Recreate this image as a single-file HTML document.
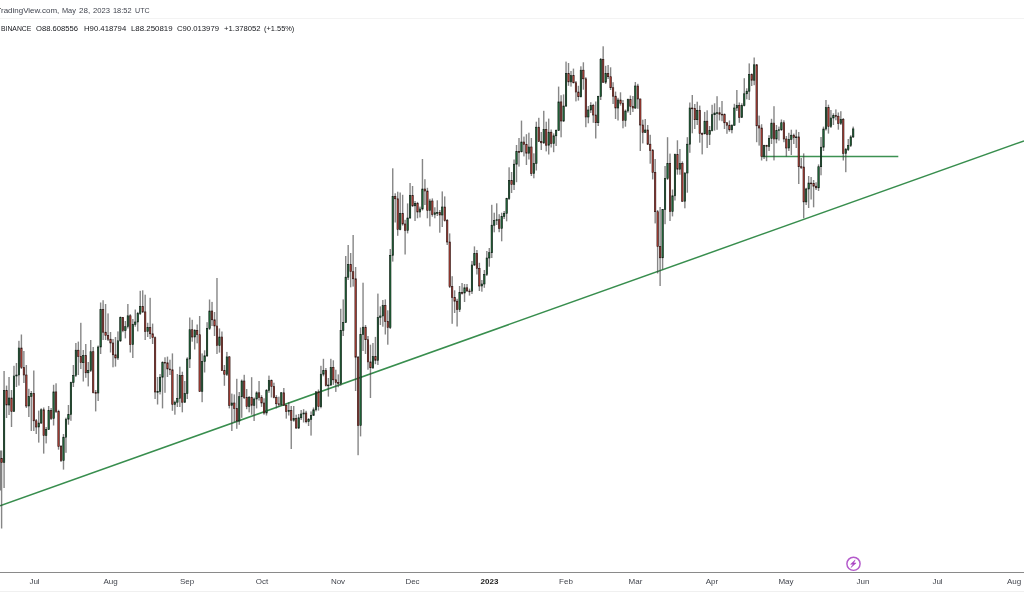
<!DOCTYPE html>
<html><head><meta charset="utf-8"><title>chart</title>
<style>
html,body{margin:0;padding:0;background:#fff;}
body{width:1024px;height:615px;overflow:hidden;position:relative;font-family:"Liberation Sans",sans-serif;}
.txt{position:absolute;left:0;top:0;width:1024px;height:615px;will-change:transform;}
.w1,.w2{position:absolute;white-space:nowrap;transform-origin:0 0;}
.w1{top:6.4px;font-size:7.8px;color:#40444e;}
.w2{top:24px;font-size:7.7px;color:#15171c;}
.tcut{position:absolute;left:0;top:8px;width:0.6px;height:1px;background:#777;}
.sep{position:absolute;left:0;top:18px;width:1024px;height:1px;background:#f3f3f3;}
.t2{position:absolute;left:0px;top:24px;font-size:7.6px;color:#2a2a2a;white-space:nowrap;}
.t2 span{margin-right:5px;}
.axis{position:absolute;left:0;top:572px;width:1024px;height:1px;background:#8a8a8a;}
.bl{position:absolute;left:0;top:591px;width:1024px;height:1px;background:#f0f0f0;}
.ml{position:absolute;top:577px;width:40px;text-align:center;font-size:8px;color:#42454d;}
.ml.yr{font-weight:bold;color:#222;}
svg{position:absolute;left:0;top:0;}
.g{fill:#24703f;stroke:#0c1c12;} .r{fill:#b8443a;stroke:#2a1210;}
</style></head><body>
<div class="txt"><div class="tcut"></div><span class="w1" style="left:0.60px;transform:scaleX(1.022)">radingView.com,</span><span class="w1" style="left:61.80px;transform:scaleX(0.943)">May</span><span class="w1" style="left:78.60px;transform:scaleX(1.033)">28,</span><span class="w1" style="left:92.70px;transform:scaleX(0.980)">2023</span><span class="w1" style="left:113.00px;transform:scaleX(0.951)">18:52</span><span class="w1" style="left:134.50px;transform:scaleX(0.911)">UTC</span>
<div class="sep"></div>
<span class="w2" style="left:0.50px;transform:scaleX(0.886)">BINANCE</span><span class="w2" style="left:35.95px;transform:scaleX(0.993)">O88.608556</span><span class="w2" style="left:83.60px;transform:scaleX(1.007)">H90.418794</span><span class="w2" style="left:130.70px;transform:scaleX(1.022)">L88.250819</span><span class="w2" style="left:176.60px;transform:scaleX(1.002)">C90.013979</span><span class="w2" style="left:223.90px;transform:scaleX(1.001)">+1.378052</span><span class="w2" style="left:263.70px;transform:scaleX(0.966)">(+1.55%)</span></div>
<svg width="1024" height="615" viewBox="0 0 1024 615">
<line x1="0" y1="505.9" x2="1024" y2="140.9" stroke="#388e4e" stroke-width="1.5"/>
<line x1="762" y1="156.6" x2="898.3" y2="156.6" stroke="#3c9152" stroke-width="1.5"/>
<g><g fill="#3c3c3c" fill-opacity="0.62"><rect x="-0.5" y="450.5" width="1.6" height="40"/><rect x="0.90" y="450.5" width="1.4" height="78.0"/><rect x="3.38" y="371.0" width="1.4" height="117.0"/><rect x="5.85" y="385.6" width="1.4" height="32.4"/><rect x="8.33" y="377.0" width="1.4" height="38.0"/><rect x="10.80" y="390.0" width="1.4" height="37.0"/><rect x="13.28" y="365.8" width="1.4" height="46.2"/><rect x="15.75" y="363.0" width="1.4" height="24.0"/><rect x="18.23" y="340.8" width="1.4" height="44.8"/><rect x="20.70" y="334.5" width="1.4" height="34.5"/><rect x="23.18" y="351.0" width="1.4" height="32.0"/><rect x="25.66" y="365.0" width="1.4" height="43.0"/><rect x="28.13" y="388.8" width="1.4" height="28.2"/><rect x="30.61" y="391.0" width="1.4" height="40.0"/><rect x="33.08" y="370.5" width="1.4" height="60.5"/><rect x="35.56" y="419.0" width="1.4" height="15.0"/><rect x="38.03" y="410.6" width="1.4" height="32.0"/><rect x="40.51" y="408.3" width="1.4" height="15.7"/><rect x="42.99" y="407.5" width="1.4" height="46.1"/><rect x="45.46" y="427.0" width="1.4" height="16.4"/><rect x="47.94" y="406.0" width="1.4" height="24.0"/><rect x="50.41" y="408.0" width="1.4" height="12.0"/><rect x="52.89" y="384.8" width="1.4" height="40.7"/><rect x="55.36" y="383.3" width="1.4" height="29.7"/><rect x="57.84" y="409.8" width="1.4" height="39.9"/><rect x="60.31" y="445.0" width="1.4" height="17.0"/><rect x="62.79" y="434.0" width="1.4" height="35.6"/><rect x="65.27" y="417.7" width="1.4" height="35.1"/><rect x="67.74" y="405.0" width="1.4" height="19.7"/><rect x="70.22" y="381.7" width="1.4" height="39.1"/><rect x="72.69" y="365.0" width="1.4" height="22.0"/><rect x="75.17" y="343.0" width="1.4" height="34.0"/><rect x="77.64" y="341.6" width="1.4" height="33.4"/><rect x="80.12" y="322.8" width="1.4" height="46.2"/><rect x="82.59" y="350.0" width="1.4" height="31.5"/><rect x="85.07" y="344.0" width="1.4" height="33.8"/><rect x="87.55" y="362.0" width="1.4" height="24.4"/><rect x="90.02" y="340.0" width="1.4" height="32.0"/><rect x="92.50" y="347.0" width="1.4" height="46.4"/><rect x="94.97" y="390.0" width="1.4" height="21.4"/><rect x="97.45" y="345.5" width="1.4" height="55.5"/><rect x="99.92" y="302.5" width="1.4" height="51.5"/><rect x="102.40" y="300.2" width="1.4" height="39.8"/><rect x="104.88" y="304.0" width="1.4" height="36.0"/><rect x="107.35" y="313.4" width="1.4" height="27.6"/><rect x="109.83" y="332.0" width="1.4" height="20.5"/><rect x="112.30" y="339.0" width="1.4" height="28.3"/><rect x="114.78" y="337.0" width="1.4" height="29.6"/><rect x="117.25" y="331.4" width="1.4" height="28.6"/><rect x="119.73" y="316.5" width="1.4" height="25.5"/><rect x="122.20" y="317.3" width="1.4" height="14.9"/><rect x="124.68" y="321.0" width="1.4" height="17.4"/><rect x="127.16" y="304.0" width="1.4" height="24.5"/><rect x="129.63" y="314.2" width="1.4" height="38.3"/><rect x="132.11" y="319.0" width="1.4" height="39.0"/><rect x="134.58" y="309.5" width="1.4" height="17.2"/><rect x="137.06" y="311.9" width="1.4" height="19.5"/><rect x="139.53" y="290.8" width="1.4" height="24.2"/><rect x="142.01" y="290.3" width="1.4" height="22.7"/><rect x="144.48" y="294.7" width="1.4" height="45.3"/><rect x="146.96" y="322.8" width="1.4" height="14.2"/><rect x="149.44" y="297.8" width="1.4" height="41.2"/><rect x="151.91" y="323.6" width="1.4" height="20.4"/><rect x="154.39" y="336.5" width="1.4" height="62.5"/><rect x="156.86" y="377.0" width="1.4" height="27.5"/><rect x="159.34" y="374.0" width="1.4" height="20.4"/><rect x="161.81" y="361.3" width="1.4" height="47.1"/><rect x="164.29" y="357.3" width="1.4" height="35.5"/><rect x="166.77" y="356.6" width="1.4" height="20.4"/><rect x="169.24" y="359.7" width="1.4" height="15.3"/><rect x="171.72" y="353.4" width="1.4" height="57.4"/><rect x="174.19" y="400.6" width="1.4" height="14.1"/><rect x="176.67" y="374.0" width="1.4" height="33.0"/><rect x="179.14" y="366.7" width="1.4" height="40.3"/><rect x="181.62" y="371.7" width="1.4" height="40.6"/><rect x="184.09" y="381.0" width="1.4" height="22.0"/><rect x="186.57" y="357.3" width="1.4" height="41.7"/><rect x="189.05" y="317.5" width="1.4" height="50.5"/><rect x="191.52" y="319.8" width="1.4" height="21.9"/><rect x="194.00" y="329.2" width="1.4" height="20.3"/><rect x="196.47" y="324.5" width="1.4" height="18.8"/><rect x="198.95" y="316.0" width="1.4" height="76.0"/><rect x="201.42" y="353.4" width="1.4" height="48.8"/><rect x="203.90" y="350.3" width="1.4" height="22.2"/><rect x="206.37" y="322.2" width="1.4" height="34.8"/><rect x="208.85" y="299.5" width="1.4" height="30.5"/><rect x="211.33" y="301.9" width="1.4" height="24.1"/><rect x="213.80" y="312.0" width="1.4" height="24.0"/><rect x="216.28" y="278.0" width="1.4" height="76.0"/><rect x="218.75" y="328.4" width="1.4" height="24.2"/><rect x="221.23" y="331.5" width="1.4" height="39.5"/><rect x="223.70" y="365.0" width="1.4" height="20.8"/><rect x="226.18" y="351.9" width="1.4" height="24.1"/><rect x="228.66" y="356.0" width="1.4" height="52.4"/><rect x="231.13" y="393.6" width="1.4" height="37.4"/><rect x="233.61" y="394.4" width="1.4" height="28.1"/><rect x="236.08" y="378.8" width="1.4" height="50.0"/><rect x="238.56" y="392.0" width="1.4" height="32.8"/><rect x="241.03" y="379.5" width="1.4" height="38.3"/><rect x="243.51" y="374.8" width="1.4" height="24.2"/><rect x="245.98" y="389.0" width="1.4" height="20.2"/><rect x="248.46" y="396.0" width="1.4" height="16.3"/><rect x="250.94" y="377.2" width="1.4" height="37.5"/><rect x="253.41" y="397.5" width="1.4" height="23.5"/><rect x="255.89" y="391.3" width="1.4" height="17.1"/><rect x="258.36" y="381.0" width="1.4" height="19.6"/><rect x="260.84" y="395.2" width="1.4" height="11.7"/><rect x="263.31" y="398.3" width="1.4" height="16.4"/><rect x="265.79" y="389.0" width="1.4" height="26.5"/><rect x="268.26" y="375.6" width="1.4" height="17.2"/><rect x="270.74" y="379.5" width="1.4" height="18.0"/><rect x="273.22" y="382.7" width="1.4" height="15.6"/><rect x="275.69" y="395.2" width="1.4" height="13.2"/><rect x="278.17" y="396.7" width="1.4" height="10.2"/><rect x="280.64" y="392.0" width="1.4" height="14.0"/><rect x="283.12" y="388.0" width="1.4" height="18.0"/><rect x="285.59" y="404.5" width="1.4" height="14.1"/><rect x="288.07" y="402.2" width="1.4" height="13.3"/><rect x="290.55" y="406.0" width="1.4" height="43.0"/><rect x="293.02" y="406.0" width="1.4" height="15.7"/><rect x="295.50" y="414.7" width="1.4" height="14.1"/><rect x="297.97" y="414.0" width="1.4" height="15.0"/><rect x="300.45" y="410.0" width="1.4" height="10.0"/><rect x="302.92" y="409.2" width="1.4" height="13.3"/><rect x="305.40" y="410.8" width="1.4" height="12.5"/><rect x="307.87" y="418.0" width="1.4" height="8.0"/><rect x="310.35" y="411.4" width="1.4" height="24.2"/><rect x="312.83" y="407.5" width="1.4" height="8.5"/><rect x="315.30" y="391.0" width="1.4" height="20.4"/><rect x="317.78" y="389.5" width="1.4" height="21.1"/><rect x="320.25" y="365.8" width="1.4" height="42.5"/><rect x="322.73" y="358.8" width="1.4" height="17.5"/><rect x="325.20" y="368.0" width="1.4" height="18.5"/><rect x="327.68" y="378.0" width="1.4" height="18.6"/><rect x="330.15" y="358.8" width="1.4" height="27.2"/><rect x="332.63" y="360.3" width="1.4" height="24.5"/><rect x="335.11" y="369.7" width="1.4" height="22.2"/><rect x="337.58" y="374.4" width="1.4" height="12.8"/><rect x="340.06" y="308.8" width="1.4" height="76.8"/><rect x="342.53" y="299.4" width="1.4" height="36.6"/><rect x="345.01" y="256.0" width="1.4" height="67.0"/><rect x="347.48" y="245.0" width="1.4" height="35.0"/><rect x="349.96" y="253.0" width="1.4" height="34.3"/><rect x="352.44" y="235.0" width="1.4" height="51.6"/><rect x="354.91" y="267.0" width="1.4" height="124.0"/><rect x="357.39" y="356.0" width="1.4" height="99.2"/><rect x="359.86" y="327.5" width="1.4" height="108.9"/><rect x="362.34" y="282.7" width="1.4" height="68.3"/><rect x="364.81" y="325.0" width="1.4" height="29.0"/><rect x="367.29" y="336.0" width="1.4" height="33.7"/><rect x="369.76" y="344.7" width="1.4" height="53.3"/><rect x="372.24" y="343.0" width="1.4" height="26.0"/><rect x="374.72" y="336.9" width="1.4" height="27.3"/><rect x="377.19" y="293.6" width="1.4" height="71.4"/><rect x="379.67" y="306.4" width="1.4" height="18.6"/><rect x="382.14" y="300.0" width="1.4" height="26.7"/><rect x="384.62" y="299.4" width="1.4" height="35.1"/><rect x="387.09" y="310.3" width="1.4" height="34.4"/><rect x="389.57" y="249.0" width="1.4" height="80.0"/><rect x="392.04" y="168.3" width="1.4" height="93.3"/><rect x="394.52" y="193.3" width="1.4" height="29.2"/><rect x="397.00" y="191.7" width="1.4" height="44.1"/><rect x="399.47" y="192.5" width="1.4" height="37.8"/><rect x="401.95" y="194.8" width="1.4" height="30.8"/><rect x="404.42" y="219.8" width="1.4" height="34.7"/><rect x="406.90" y="203.4" width="1.4" height="30.0"/><rect x="409.37" y="183.0" width="1.4" height="35.6"/><rect x="411.85" y="186.0" width="1.4" height="21.0"/><rect x="414.33" y="201.0" width="1.4" height="20.0"/><rect x="416.80" y="201.9" width="1.4" height="16.4"/><rect x="419.28" y="206.6" width="1.4" height="10.9"/><rect x="421.75" y="159.0" width="1.4" height="51.5"/><rect x="424.23" y="179.2" width="1.4" height="25.8"/><rect x="426.70" y="187.8" width="1.4" height="30.5"/><rect x="429.18" y="198.8" width="1.4" height="27.6"/><rect x="431.65" y="198.4" width="1.4" height="18.3"/><rect x="434.13" y="207.3" width="1.4" height="11.0"/><rect x="436.61" y="200.3" width="1.4" height="15.7"/><rect x="439.08" y="210.0" width="1.4" height="22.7"/><rect x="441.56" y="191.4" width="1.4" height="35.6"/><rect x="444.03" y="196.4" width="1.4" height="25.1"/><rect x="446.51" y="219.0" width="1.4" height="26.0"/><rect x="448.98" y="233.4" width="1.4" height="54.6"/><rect x="451.46" y="276.2" width="1.4" height="47.6"/><rect x="453.93" y="290.3" width="1.4" height="22.7"/><rect x="456.41" y="298.8" width="1.4" height="27.7"/><rect x="458.89" y="286.0" width="1.4" height="26.0"/><rect x="461.36" y="283.0" width="1.4" height="11.5"/><rect x="463.84" y="284.0" width="1.4" height="18.0"/><rect x="466.31" y="284.0" width="1.4" height="7.7"/><rect x="468.79" y="288.6" width="1.4" height="7.0"/><rect x="471.26" y="261.0" width="1.4" height="33.0"/><rect x="473.74" y="246.4" width="1.4" height="19.6"/><rect x="476.22" y="250.0" width="1.4" height="24.5"/><rect x="478.69" y="262.8" width="1.4" height="28.2"/><rect x="481.17" y="280.0" width="1.4" height="11.7"/><rect x="483.64" y="270.0" width="1.4" height="17.8"/><rect x="486.12" y="251.0" width="1.4" height="25.0"/><rect x="488.59" y="248.0" width="1.4" height="18.7"/><rect x="491.07" y="204.8" width="1.4" height="53.2"/><rect x="493.54" y="212.7" width="1.4" height="19.6"/><rect x="496.02" y="203.3" width="1.4" height="21.7"/><rect x="498.50" y="214.2" width="1.4" height="18.0"/><rect x="500.97" y="212.7" width="1.4" height="28.6"/><rect x="503.45" y="211.0" width="1.4" height="8.0"/><rect x="505.92" y="197.8" width="1.4" height="23.5"/><rect x="508.40" y="167.3" width="1.4" height="32.7"/><rect x="510.87" y="172.0" width="1.4" height="21.0"/><rect x="513.35" y="159.5" width="1.4" height="30.5"/><rect x="515.82" y="145.0" width="1.4" height="37.2"/><rect x="518.30" y="138.0" width="1.4" height="28.6"/><rect x="520.78" y="120.6" width="1.4" height="31.9"/><rect x="523.25" y="136.6" width="1.4" height="19.8"/><rect x="525.73" y="134.2" width="1.4" height="30.8"/><rect x="528.20" y="132.7" width="1.4" height="26.8"/><rect x="530.68" y="138.0" width="1.4" height="38.0"/><rect x="533.15" y="153.3" width="1.4" height="25.0"/><rect x="535.63" y="121.7" width="1.4" height="48.8"/><rect x="538.11" y="117.8" width="1.4" height="24.2"/><rect x="540.58" y="132.0" width="1.4" height="18.0"/><rect x="543.06" y="110.8" width="1.4" height="33.2"/><rect x="545.53" y="121.7" width="1.4" height="29.7"/><rect x="548.01" y="118.6" width="1.4" height="35.9"/><rect x="550.48" y="129.5" width="1.4" height="18.0"/><rect x="552.96" y="133.4" width="1.4" height="18.8"/><rect x="555.43" y="129.5" width="1.4" height="16.5"/><rect x="557.91" y="86.6" width="1.4" height="44.4"/><rect x="560.39" y="95.2" width="1.4" height="42.1"/><rect x="562.86" y="94.4" width="1.4" height="27.6"/><rect x="565.34" y="61.6" width="1.4" height="45.4"/><rect x="567.81" y="63.0" width="1.4" height="22.8"/><rect x="570.29" y="71.0" width="1.4" height="15.6"/><rect x="572.76" y="68.6" width="1.4" height="14.9"/><rect x="575.24" y="81.0" width="1.4" height="20.4"/><rect x="577.71" y="85.8" width="1.4" height="14.8"/><rect x="580.19" y="66.3" width="1.4" height="31.2"/><rect x="582.67" y="62.3" width="1.4" height="27.4"/><rect x="585.14" y="77.2" width="1.4" height="50.0"/><rect x="587.62" y="106.0" width="1.4" height="17.3"/><rect x="590.09" y="102.2" width="1.4" height="10.8"/><rect x="592.57" y="103.8" width="1.4" height="19.0"/><rect x="595.04" y="101.5" width="1.4" height="37.0"/><rect x="597.52" y="95.8" width="1.4" height="30.2"/><rect x="600.00" y="58.0" width="1.4" height="42.0"/><rect x="602.47" y="46.3" width="1.4" height="36.7"/><rect x="604.95" y="65.8" width="1.4" height="18.2"/><rect x="607.42" y="65.0" width="1.4" height="14.0"/><rect x="609.90" y="67.3" width="1.4" height="22.7"/><rect x="612.37" y="82.2" width="1.4" height="21.8"/><rect x="614.85" y="91.6" width="1.4" height="27.4"/><rect x="617.32" y="97.8" width="1.4" height="22.7"/><rect x="619.80" y="92.3" width="1.4" height="13.3"/><rect x="622.28" y="100.0" width="1.4" height="28.3"/><rect x="624.75" y="109.5" width="1.4" height="17.2"/><rect x="627.23" y="98.6" width="1.4" height="14.1"/><rect x="629.70" y="95.5" width="1.4" height="19.5"/><rect x="632.18" y="96.0" width="1.4" height="16.0"/><rect x="634.65" y="82.0" width="1.4" height="27.0"/><rect x="637.13" y="83.8" width="1.4" height="25.0"/><rect x="639.60" y="98.6" width="1.4" height="52.4"/><rect x="642.08" y="119.7" width="1.4" height="23.7"/><rect x="644.56" y="119.0" width="1.4" height="14.0"/><rect x="647.03" y="125.0" width="1.4" height="20.0"/><rect x="649.51" y="134.8" width="1.4" height="28.9"/><rect x="651.98" y="149.0" width="1.4" height="30.4"/><rect x="654.46" y="159.0" width="1.4" height="64.4"/><rect x="656.93" y="210.0" width="1.4" height="63.4"/><rect x="659.41" y="207.0" width="1.4" height="79.0"/><rect x="661.89" y="209.0" width="1.4" height="60.5"/><rect x="664.36" y="166.0" width="1.4" height="58.2"/><rect x="666.84" y="137.2" width="1.4" height="42.8"/><rect x="669.31" y="153.6" width="1.4" height="67.4"/><rect x="671.79" y="189.5" width="1.4" height="26.9"/><rect x="674.26" y="153.6" width="1.4" height="46.9"/><rect x="676.74" y="140.3" width="1.4" height="34.4"/><rect x="679.21" y="149.0" width="1.4" height="25.7"/><rect x="681.69" y="161.4" width="1.4" height="40.6"/><rect x="684.17" y="172.3" width="1.4" height="36.0"/><rect x="686.64" y="137.2" width="1.4" height="55.5"/><rect x="689.12" y="102.5" width="1.4" height="50.3"/><rect x="691.59" y="95.0" width="1.4" height="38.3"/><rect x="694.07" y="104.0" width="1.4" height="25.0"/><rect x="696.54" y="101.7" width="1.4" height="23.3"/><rect x="699.02" y="105.6" width="1.4" height="37.1"/><rect x="701.49" y="132.5" width="1.4" height="21.9"/><rect x="703.97" y="111.9" width="1.4" height="22.6"/><rect x="706.45" y="110.3" width="1.4" height="37.7"/><rect x="708.92" y="126.0" width="1.4" height="19.0"/><rect x="711.40" y="104.8" width="1.4" height="26.6"/><rect x="713.87" y="103.3" width="1.4" height="27.3"/><rect x="716.35" y="96.2" width="1.4" height="33.6"/><rect x="718.82" y="107.2" width="1.4" height="13.3"/><rect x="721.30" y="101.0" width="1.4" height="20.2"/><rect x="723.78" y="113.4" width="1.4" height="15.6"/><rect x="726.25" y="122.0" width="1.4" height="11.8"/><rect x="728.73" y="120.5" width="1.4" height="11.2"/><rect x="731.20" y="124.4" width="1.4" height="8.9"/><rect x="733.68" y="103.8" width="1.4" height="22.2"/><rect x="736.15" y="90.0" width="1.4" height="21.0"/><rect x="738.63" y="102.5" width="1.4" height="20.3"/><rect x="741.10" y="103.3" width="1.4" height="14.7"/><rect x="743.58" y="78.2" width="1.4" height="28.2"/><rect x="746.06" y="88.3" width="1.4" height="11.0"/><rect x="748.53" y="63.4" width="1.4" height="36.6"/><rect x="751.01" y="73.4" width="1.4" height="12.6"/><rect x="753.48" y="57.5" width="1.4" height="27.7"/><rect x="755.96" y="64.0" width="1.4" height="78.2"/><rect x="758.43" y="115.6" width="1.4" height="30.0"/><rect x="760.91" y="124.2" width="1.4" height="36.3"/><rect x="763.38" y="144.8" width="1.4" height="14.2"/><rect x="765.86" y="144.8" width="1.4" height="16.4"/><rect x="768.34" y="135.2" width="1.4" height="15.8"/><rect x="770.81" y="118.8" width="1.4" height="25.2"/><rect x="773.29" y="106.2" width="1.4" height="54.2"/><rect x="775.76" y="125.0" width="1.4" height="18.3"/><rect x="778.24" y="126.6" width="1.4" height="14.0"/><rect x="780.71" y="119.5" width="1.4" height="11.5"/><rect x="783.19" y="120.3" width="1.4" height="21.9"/><rect x="785.67" y="136.0" width="1.4" height="20.5"/><rect x="788.14" y="132.8" width="1.4" height="18.2"/><rect x="790.62" y="129.7" width="1.4" height="25.3"/><rect x="793.09" y="133.6" width="1.4" height="10.4"/><rect x="795.57" y="129.7" width="1.4" height="18.3"/><rect x="798.04" y="132.0" width="1.4" height="52.0"/><rect x="800.52" y="158.0" width="1.4" height="11.0"/><rect x="802.99" y="153.4" width="1.4" height="64.9"/><rect x="805.47" y="187.8" width="1.4" height="17.2"/><rect x="807.95" y="176.0" width="1.4" height="32.0"/><rect x="810.42" y="177.0" width="1.4" height="22.5"/><rect x="812.90" y="180.0" width="1.4" height="27.3"/><rect x="815.37" y="182.3" width="1.4" height="7.7"/><rect x="817.85" y="164.4" width="1.4" height="26.6"/><rect x="820.32" y="137.0" width="1.4" height="38.3"/><rect x="822.80" y="126.6" width="1.4" height="24.4"/><rect x="825.27" y="100.0" width="1.4" height="30.5"/><rect x="827.75" y="104.7" width="1.4" height="28.9"/><rect x="830.23" y="110.0" width="1.4" height="18.0"/><rect x="832.70" y="113.3" width="1.4" height="11.7"/><rect x="835.18" y="109.4" width="1.4" height="10.9"/><rect x="837.65" y="112.5" width="1.4" height="17.2"/><rect x="840.13" y="111.2" width="1.4" height="13.8"/><rect x="842.60" y="118.0" width="1.4" height="42.5"/><rect x="845.08" y="148.0" width="1.4" height="24.2"/><rect x="847.56" y="139.0" width="1.4" height="12.0"/><rect x="850.03" y="135.2" width="1.4" height="11.8"/><rect x="852.51" y="126.6" width="1.4" height="11.4"/></g>
<g stroke-width="0.6"><rect class="r" x="0.90" y="458.3" width="1.4" height="4.2"/><rect class="g" x="3.38" y="390.5" width="1.4" height="72.0"/><rect class="r" x="5.85" y="390.5" width="1.4" height="14.5"/><rect class="g" x="8.33" y="398.0" width="1.4" height="7.0"/><rect class="r" x="10.80" y="398.0" width="1.4" height="13.4"/><rect class="g" x="13.28" y="376.0" width="1.4" height="35.4"/><rect class="g" x="15.75" y="375.0" width="1.4" height="1.0"/><rect class="g" x="18.23" y="348.0" width="1.4" height="27.0"/><rect class="r" x="20.70" y="348.0" width="1.4" height="19.6"/><rect class="r" x="23.18" y="367.6" width="1.4" height="7.4"/><rect class="r" x="25.66" y="375.0" width="1.4" height="31.0"/><rect class="g" x="28.13" y="396.5" width="1.4" height="9.5"/><rect class="g" x="30.61" y="393.4" width="1.4" height="3.1"/><rect class="r" x="33.08" y="393.4" width="1.4" height="27.4"/><rect class="r" x="35.56" y="420.8" width="1.4" height="6.2"/><rect class="g" x="38.03" y="423.0" width="1.4" height="4.0"/><rect class="g" x="40.51" y="409.8" width="1.4" height="13.2"/><rect class="r" x="42.99" y="409.8" width="1.4" height="25.8"/><rect class="g" x="45.46" y="429.4" width="1.4" height="6.2"/><rect class="g" x="47.94" y="410.6" width="1.4" height="18.8"/><rect class="r" x="50.41" y="410.6" width="1.4" height="7.8"/><rect class="g" x="52.89" y="391.9" width="1.4" height="26.5"/><rect class="r" x="55.36" y="391.9" width="1.4" height="19.5"/><rect class="r" x="57.84" y="411.4" width="1.4" height="35.2"/><rect class="r" x="60.31" y="446.6" width="1.4" height="14.0"/><rect class="g" x="62.79" y="437.2" width="1.4" height="23.4"/><rect class="g" x="65.27" y="419.2" width="1.4" height="18.0"/><rect class="g" x="67.74" y="414.5" width="1.4" height="4.7"/><rect class="g" x="70.22" y="382.5" width="1.4" height="32.0"/><rect class="g" x="72.69" y="375.4" width="1.4" height="7.1"/><rect class="g" x="75.17" y="350.2" width="1.4" height="25.2"/><rect class="r" x="77.64" y="350.2" width="1.4" height="6.2"/><rect class="r" x="80.12" y="356.4" width="1.4" height="6.3"/><rect class="g" x="82.59" y="355.6" width="1.4" height="7.1"/><rect class="r" x="85.07" y="355.6" width="1.4" height="17.2"/><rect class="g" x="87.55" y="370.5" width="1.4" height="2.3"/><rect class="g" x="90.02" y="351.7" width="1.4" height="18.8"/><rect class="r" x="92.50" y="351.7" width="1.4" height="40.9"/><rect class="r" x="94.97" y="392.6" width="1.4" height="0.8"/><rect class="g" x="97.45" y="347.0" width="1.4" height="46.0"/><rect class="g" x="99.92" y="309.5" width="1.4" height="37.5"/><rect class="r" x="102.40" y="309.5" width="1.4" height="22.7"/><rect class="r" x="104.88" y="332.2" width="1.4" height="3.1"/><rect class="r" x="107.35" y="335.3" width="1.4" height="3.9"/><rect class="r" x="109.83" y="339.2" width="1.4" height="3.8"/><rect class="r" x="112.30" y="343.0" width="1.4" height="11.8"/><rect class="r" x="114.78" y="354.8" width="1.4" height="3.2"/><rect class="g" x="117.25" y="340.8" width="1.4" height="17.2"/><rect class="g" x="119.73" y="317.3" width="1.4" height="23.5"/><rect class="r" x="122.20" y="317.3" width="1.4" height="13.3"/><rect class="g" x="124.68" y="326.7" width="1.4" height="3.9"/><rect class="g" x="127.16" y="315.8" width="1.4" height="10.9"/><rect class="r" x="129.63" y="315.8" width="1.4" height="28.9"/><rect class="g" x="132.11" y="324.4" width="1.4" height="20.3"/><rect class="g" x="134.58" y="322.0" width="1.4" height="2.4"/><rect class="g" x="137.06" y="313.4" width="1.4" height="8.6"/><rect class="g" x="139.53" y="306.4" width="1.4" height="7.0"/><rect class="r" x="142.01" y="306.4" width="1.4" height="5.5"/><rect class="r" x="144.48" y="311.9" width="1.4" height="19.5"/><rect class="g" x="146.96" y="327.5" width="1.4" height="3.9"/><rect class="r" x="149.44" y="327.5" width="1.4" height="6.3"/><rect class="r" x="151.91" y="333.8" width="1.4" height="3.9"/><rect class="r" x="154.39" y="337.7" width="1.4" height="54.3"/><rect class="g" x="156.86" y="391.5" width="1.4" height="0.8"/><rect class="g" x="159.34" y="377.2" width="1.4" height="14.3"/><rect class="g" x="161.81" y="362.3" width="1.4" height="14.9"/><rect class="r" x="164.29" y="362.3" width="1.4" height="0.8"/><rect class="r" x="166.77" y="362.8" width="1.4" height="6.2"/><rect class="r" x="169.24" y="369.0" width="1.4" height="0.8"/><rect class="r" x="171.72" y="369.8" width="1.4" height="34.7"/><rect class="g" x="174.19" y="402.2" width="1.4" height="2.3"/><rect class="g" x="176.67" y="398.3" width="1.4" height="3.9"/><rect class="g" x="179.14" y="375.6" width="1.4" height="22.7"/><rect class="r" x="181.62" y="375.6" width="1.4" height="26.6"/><rect class="g" x="184.09" y="393.6" width="1.4" height="8.6"/><rect class="g" x="186.57" y="359.0" width="1.4" height="34.6"/><rect class="g" x="189.05" y="329.7" width="1.4" height="29.3"/><rect class="r" x="191.52" y="329.7" width="1.4" height="7.3"/><rect class="g" x="194.00" y="330.3" width="1.4" height="6.7"/><rect class="r" x="196.47" y="330.3" width="1.4" height="4.4"/><rect class="r" x="198.95" y="334.7" width="1.4" height="56.6"/><rect class="g" x="201.42" y="361.6" width="1.4" height="29.7"/><rect class="g" x="203.90" y="355.8" width="1.4" height="5.8"/><rect class="g" x="206.37" y="328.4" width="1.4" height="27.4"/><rect class="g" x="208.85" y="311.0" width="1.4" height="17.4"/><rect class="r" x="211.33" y="311.0" width="1.4" height="8.8"/><rect class="r" x="213.80" y="319.8" width="1.4" height="6.2"/><rect class="r" x="216.28" y="326.0" width="1.4" height="19.6"/><rect class="g" x="218.75" y="337.0" width="1.4" height="8.6"/><rect class="r" x="221.23" y="337.0" width="1.4" height="33.6"/><rect class="r" x="223.70" y="370.6" width="1.4" height="3.9"/><rect class="g" x="226.18" y="356.9" width="1.4" height="17.6"/><rect class="r" x="228.66" y="356.9" width="1.4" height="48.4"/><rect class="g" x="231.13" y="403.0" width="1.4" height="2.3"/><rect class="r" x="233.61" y="403.0" width="1.4" height="5.4"/><rect class="r" x="236.08" y="408.4" width="1.4" height="12.6"/><rect class="g" x="238.56" y="396.7" width="1.4" height="24.3"/><rect class="g" x="241.03" y="381.0" width="1.4" height="15.7"/><rect class="r" x="243.51" y="381.0" width="1.4" height="16.5"/><rect class="r" x="245.98" y="397.5" width="1.4" height="9.1"/><rect class="g" x="248.46" y="397.5" width="1.4" height="9.1"/><rect class="r" x="250.94" y="397.5" width="1.4" height="7.8"/><rect class="g" x="253.41" y="399.0" width="1.4" height="6.3"/><rect class="g" x="255.89" y="392.8" width="1.4" height="6.2"/><rect class="r" x="258.36" y="392.8" width="1.4" height="4.7"/><rect class="r" x="260.84" y="397.5" width="1.4" height="5.5"/><rect class="r" x="263.31" y="403.0" width="1.4" height="10.0"/><rect class="g" x="265.79" y="390.5" width="1.4" height="22.5"/><rect class="g" x="268.26" y="380.3" width="1.4" height="10.2"/><rect class="r" x="270.74" y="380.3" width="1.4" height="6.3"/><rect class="r" x="273.22" y="386.6" width="1.4" height="10.9"/><rect class="r" x="275.69" y="397.5" width="1.4" height="6.3"/><rect class="r" x="278.17" y="403.8" width="1.4" height="0.8"/><rect class="g" x="280.64" y="392.8" width="1.4" height="11.7"/><rect class="r" x="283.12" y="392.8" width="1.4" height="12.5"/><rect class="r" x="285.59" y="405.3" width="1.4" height="6.3"/><rect class="g" x="288.07" y="410.5" width="1.4" height="1.1"/><rect class="r" x="290.55" y="410.5" width="1.4" height="9.7"/><rect class="g" x="293.02" y="418.6" width="1.4" height="1.6"/><rect class="r" x="295.50" y="418.6" width="1.4" height="9.4"/><rect class="g" x="297.97" y="417.8" width="1.4" height="10.2"/><rect class="g" x="300.45" y="414.0" width="1.4" height="3.8"/><rect class="g" x="302.92" y="413.0" width="1.4" height="1.0"/><rect class="r" x="305.40" y="413.0" width="1.4" height="8.7"/><rect class="g" x="307.87" y="419.3" width="1.4" height="2.4"/><rect class="g" x="310.35" y="415.3" width="1.4" height="4.0"/><rect class="g" x="312.83" y="409.8" width="1.4" height="5.5"/><rect class="g" x="315.30" y="391.9" width="1.4" height="17.9"/><rect class="r" x="317.78" y="391.9" width="1.4" height="14.8"/><rect class="g" x="320.25" y="374.2" width="1.4" height="32.5"/><rect class="g" x="322.73" y="370.5" width="1.4" height="3.7"/><rect class="r" x="325.20" y="370.5" width="1.4" height="15.1"/><rect class="g" x="327.68" y="385.0" width="1.4" height="0.8"/><rect class="g" x="330.15" y="367.3" width="1.4" height="17.7"/><rect class="r" x="332.63" y="367.3" width="1.4" height="12.5"/><rect class="r" x="335.11" y="379.8" width="1.4" height="2.7"/><rect class="r" x="337.58" y="382.5" width="1.4" height="1.0"/><rect class="g" x="340.06" y="330.3" width="1.4" height="53.2"/><rect class="g" x="342.53" y="322.5" width="1.4" height="7.8"/><rect class="g" x="345.01" y="277.2" width="1.4" height="45.3"/><rect class="g" x="347.48" y="264.4" width="1.4" height="12.8"/><rect class="r" x="349.96" y="264.4" width="1.4" height="7.3"/><rect class="r" x="352.44" y="271.7" width="1.4" height="7.1"/><rect class="r" x="354.91" y="278.8" width="1.4" height="78.4"/><rect class="r" x="357.39" y="357.2" width="1.4" height="68.3"/><rect class="g" x="359.86" y="334.5" width="1.4" height="91.0"/><rect class="g" x="362.34" y="327.2" width="1.4" height="7.3"/><rect class="r" x="364.81" y="327.2" width="1.4" height="12.5"/><rect class="r" x="367.29" y="339.7" width="1.4" height="22.2"/><rect class="r" x="369.76" y="361.9" width="1.4" height="5.9"/><rect class="g" x="372.24" y="356.4" width="1.4" height="11.4"/><rect class="r" x="374.72" y="356.4" width="1.4" height="3.9"/><rect class="g" x="377.19" y="317.3" width="1.4" height="43.0"/><rect class="g" x="379.67" y="316.0" width="1.4" height="1.3"/><rect class="g" x="382.14" y="305.6" width="1.4" height="10.4"/><rect class="r" x="384.62" y="305.6" width="1.4" height="15.7"/><rect class="r" x="387.09" y="321.3" width="1.4" height="6.2"/><rect class="g" x="389.57" y="255.3" width="1.4" height="72.2"/><rect class="g" x="392.04" y="196.4" width="1.4" height="58.9"/><rect class="r" x="394.52" y="196.4" width="1.4" height="2.4"/><rect class="r" x="397.00" y="198.8" width="1.4" height="30.7"/><rect class="g" x="399.47" y="213.6" width="1.4" height="15.9"/><rect class="r" x="401.95" y="213.6" width="1.4" height="10.4"/><rect class="r" x="404.42" y="224.0" width="1.4" height="6.3"/><rect class="g" x="406.90" y="218.0" width="1.4" height="12.3"/><rect class="g" x="409.37" y="195.6" width="1.4" height="22.4"/><rect class="r" x="411.85" y="195.6" width="1.4" height="10.2"/><rect class="g" x="414.33" y="203.4" width="1.4" height="2.4"/><rect class="r" x="416.80" y="203.4" width="1.4" height="8.6"/><rect class="g" x="419.28" y="209.0" width="1.4" height="3.0"/><rect class="g" x="421.75" y="189.0" width="1.4" height="20.0"/><rect class="r" x="424.23" y="189.0" width="1.4" height="2.0"/><rect class="r" x="426.70" y="191.0" width="1.4" height="19.5"/><rect class="g" x="429.18" y="201.0" width="1.4" height="9.5"/><rect class="r" x="431.65" y="201.0" width="1.4" height="13.4"/><rect class="g" x="434.13" y="212.8" width="1.4" height="1.6"/><rect class="g" x="436.61" y="212.5" width="1.4" height="0.8"/><rect class="r" x="439.08" y="212.5" width="1.4" height="2.5"/><rect class="g" x="441.56" y="207.0" width="1.4" height="8.0"/><rect class="r" x="444.03" y="207.0" width="1.4" height="13.6"/><rect class="r" x="446.51" y="220.6" width="1.4" height="21.4"/><rect class="r" x="448.98" y="242.0" width="1.4" height="44.6"/><rect class="r" x="451.46" y="286.6" width="1.4" height="10.7"/><rect class="r" x="453.93" y="297.3" width="1.4" height="3.9"/><rect class="r" x="456.41" y="301.2" width="1.4" height="8.4"/><rect class="g" x="458.89" y="292.5" width="1.4" height="17.1"/><rect class="r" x="461.36" y="292.5" width="1.4" height="0.8"/><rect class="g" x="463.84" y="287.8" width="1.4" height="5.2"/><rect class="r" x="466.31" y="287.8" width="1.4" height="3.2"/><rect class="r" x="468.79" y="291.0" width="1.4" height="0.8"/><rect class="g" x="471.26" y="265.0" width="1.4" height="26.2"/><rect class="g" x="473.74" y="253.4" width="1.4" height="11.6"/><rect class="r" x="476.22" y="253.4" width="1.4" height="14.9"/><rect class="r" x="478.69" y="268.3" width="1.4" height="17.7"/><rect class="g" x="481.17" y="284.0" width="1.4" height="2.0"/><rect class="g" x="483.64" y="274.5" width="1.4" height="9.5"/><rect class="g" x="486.12" y="258.0" width="1.4" height="16.5"/><rect class="g" x="488.59" y="252.7" width="1.4" height="5.3"/><rect class="g" x="491.07" y="225.2" width="1.4" height="27.5"/><rect class="g" x="493.54" y="220.5" width="1.4" height="4.7"/><rect class="g" x="496.02" y="219.7" width="1.4" height="0.8"/><rect class="r" x="498.50" y="219.7" width="1.4" height="8.6"/><rect class="g" x="500.97" y="216.6" width="1.4" height="11.7"/><rect class="g" x="503.45" y="213.4" width="1.4" height="3.2"/><rect class="g" x="505.92" y="198.6" width="1.4" height="14.8"/><rect class="g" x="508.40" y="180.3" width="1.4" height="18.3"/><rect class="r" x="510.87" y="180.3" width="1.4" height="4.2"/><rect class="g" x="513.35" y="164.2" width="1.4" height="20.3"/><rect class="g" x="515.82" y="151.5" width="1.4" height="12.7"/><rect class="r" x="518.30" y="151.5" width="1.4" height="0.8"/><rect class="g" x="520.78" y="142.0" width="1.4" height="9.7"/><rect class="r" x="523.25" y="142.0" width="1.4" height="2.3"/><rect class="r" x="525.73" y="144.3" width="1.4" height="8.9"/><rect class="g" x="528.20" y="147.0" width="1.4" height="6.2"/><rect class="r" x="530.68" y="147.0" width="1.4" height="26.6"/><rect class="g" x="533.15" y="163.4" width="1.4" height="10.2"/><rect class="g" x="535.63" y="127.2" width="1.4" height="36.2"/><rect class="r" x="538.11" y="127.2" width="1.4" height="14.1"/><rect class="r" x="540.58" y="141.3" width="1.4" height="1.5"/><rect class="g" x="543.06" y="129.5" width="1.4" height="13.3"/><rect class="r" x="545.53" y="129.5" width="1.4" height="15.7"/><rect class="g" x="548.01" y="132.2" width="1.4" height="13.0"/><rect class="r" x="550.48" y="132.2" width="1.4" height="11.4"/><rect class="g" x="552.96" y="135.8" width="1.4" height="7.8"/><rect class="g" x="555.43" y="130.3" width="1.4" height="5.5"/><rect class="g" x="557.91" y="101.9" width="1.4" height="28.4"/><rect class="r" x="560.39" y="101.9" width="1.4" height="19.1"/><rect class="g" x="562.86" y="106.0" width="1.4" height="15.0"/><rect class="g" x="565.34" y="73.3" width="1.4" height="32.7"/><rect class="r" x="567.81" y="73.3" width="1.4" height="8.6"/><rect class="g" x="570.29" y="75.6" width="1.4" height="6.3"/><rect class="r" x="572.76" y="75.6" width="1.4" height="7.1"/><rect class="r" x="575.24" y="82.7" width="1.4" height="9.3"/><rect class="r" x="577.71" y="92.0" width="1.4" height="4.7"/><rect class="g" x="580.19" y="70.2" width="1.4" height="26.5"/><rect class="r" x="582.67" y="70.2" width="1.4" height="8.6"/><rect class="r" x="585.14" y="78.8" width="1.4" height="38.2"/><rect class="g" x="587.62" y="110.0" width="1.4" height="7.0"/><rect class="g" x="590.09" y="105.5" width="1.4" height="4.5"/><rect class="r" x="592.57" y="105.5" width="1.4" height="9.5"/><rect class="r" x="595.04" y="115.0" width="1.4" height="7.7"/><rect class="g" x="597.52" y="96.6" width="1.4" height="26.1"/><rect class="g" x="600.00" y="59.5" width="1.4" height="37.1"/><rect class="r" x="602.47" y="59.5" width="1.4" height="22.7"/><rect class="g" x="604.95" y="73.6" width="1.4" height="8.6"/><rect class="r" x="607.42" y="73.6" width="1.4" height="3.1"/><rect class="r" x="609.90" y="76.7" width="1.4" height="11.0"/><rect class="r" x="612.37" y="87.7" width="1.4" height="8.5"/><rect class="r" x="614.85" y="96.2" width="1.4" height="11.8"/><rect class="g" x="617.32" y="100.0" width="1.4" height="8.0"/><rect class="r" x="619.80" y="100.0" width="1.4" height="3.3"/><rect class="r" x="622.28" y="103.3" width="1.4" height="17.2"/><rect class="g" x="624.75" y="111.0" width="1.4" height="9.5"/><rect class="g" x="627.23" y="99.4" width="1.4" height="11.6"/><rect class="r" x="629.70" y="99.4" width="1.4" height="7.0"/><rect class="r" x="632.18" y="106.4" width="1.4" height="1.6"/><rect class="g" x="634.65" y="86.0" width="1.4" height="22.0"/><rect class="r" x="637.13" y="86.0" width="1.4" height="13.0"/><rect class="r" x="639.60" y="99.0" width="1.4" height="26.0"/><rect class="r" x="642.08" y="125.0" width="1.4" height="7.3"/><rect class="g" x="644.56" y="130.0" width="1.4" height="2.3"/><rect class="r" x="647.03" y="130.0" width="1.4" height="14.2"/><rect class="r" x="649.51" y="144.2" width="1.4" height="6.3"/><rect class="r" x="651.98" y="150.5" width="1.4" height="21.8"/><rect class="r" x="654.46" y="172.3" width="1.4" height="39.4"/><rect class="r" x="656.93" y="211.7" width="1.4" height="34.9"/><rect class="r" x="659.41" y="246.6" width="1.4" height="11.2"/><rect class="g" x="661.89" y="209.4" width="1.4" height="48.4"/><rect class="g" x="664.36" y="178.6" width="1.4" height="30.8"/><rect class="g" x="666.84" y="163.4" width="1.4" height="15.2"/><rect class="r" x="669.31" y="163.4" width="1.4" height="48.2"/><rect class="g" x="671.79" y="195.8" width="1.4" height="15.8"/><rect class="g" x="674.26" y="154.4" width="1.4" height="41.4"/><rect class="r" x="676.74" y="154.4" width="1.4" height="14.8"/><rect class="g" x="679.21" y="163.4" width="1.4" height="5.8"/><rect class="r" x="681.69" y="163.4" width="1.4" height="37.8"/><rect class="g" x="684.17" y="173.0" width="1.4" height="28.2"/><rect class="g" x="686.64" y="144.2" width="1.4" height="28.8"/><rect class="g" x="689.12" y="108.0" width="1.4" height="36.2"/><rect class="r" x="691.59" y="108.0" width="1.4" height="0.8"/><rect class="r" x="694.07" y="108.6" width="1.4" height="11.1"/><rect class="g" x="696.54" y="110.3" width="1.4" height="9.4"/><rect class="r" x="699.02" y="110.3" width="1.4" height="23.3"/><rect class="r" x="701.49" y="133.6" width="1.4" height="0.8"/><rect class="g" x="703.97" y="121.2" width="1.4" height="12.5"/><rect class="r" x="706.45" y="121.2" width="1.4" height="13.2"/><rect class="g" x="708.92" y="130.6" width="1.4" height="3.9"/><rect class="g" x="711.40" y="114.7" width="1.4" height="15.9"/><rect class="g" x="713.87" y="113.0" width="1.4" height="1.7"/><rect class="g" x="716.35" y="112.7" width="1.4" height="0.8"/><rect class="r" x="718.82" y="112.7" width="1.4" height="1.5"/><rect class="r" x="721.30" y="114.2" width="1.4" height="0.8"/><rect class="r" x="723.78" y="114.6" width="1.4" height="8.2"/><rect class="r" x="726.25" y="122.8" width="1.4" height="2.4"/><rect class="r" x="728.73" y="125.2" width="1.4" height="4.6"/><rect class="g" x="731.20" y="125.2" width="1.4" height="4.6"/><rect class="g" x="733.68" y="108.0" width="1.4" height="17.2"/><rect class="g" x="736.15" y="105.6" width="1.4" height="2.4"/><rect class="r" x="738.63" y="105.6" width="1.4" height="11.7"/><rect class="g" x="741.10" y="105.6" width="1.4" height="11.7"/><rect class="g" x="743.58" y="93.8" width="1.4" height="11.8"/><rect class="g" x="746.06" y="91.2" width="1.4" height="2.6"/><rect class="g" x="748.53" y="74.6" width="1.4" height="16.6"/><rect class="r" x="751.01" y="74.6" width="1.4" height="5.6"/><rect class="g" x="753.48" y="64.8" width="1.4" height="15.4"/><rect class="r" x="755.96" y="64.8" width="1.4" height="61.0"/><rect class="r" x="758.43" y="125.8" width="1.4" height="2.2"/><rect class="r" x="760.91" y="128.0" width="1.4" height="28.5"/><rect class="g" x="763.38" y="145.6" width="1.4" height="10.9"/><rect class="r" x="765.86" y="145.6" width="1.4" height="0.9"/><rect class="g" x="768.34" y="138.6" width="1.4" height="7.9"/><rect class="g" x="770.81" y="123.1" width="1.4" height="15.5"/><rect class="r" x="773.29" y="123.1" width="1.4" height="15.9"/><rect class="g" x="775.76" y="130.5" width="1.4" height="8.5"/><rect class="g" x="778.24" y="129.7" width="1.4" height="0.8"/><rect class="g" x="780.71" y="122.7" width="1.4" height="7.0"/><rect class="r" x="783.19" y="122.7" width="1.4" height="16.3"/><rect class="r" x="785.67" y="139.0" width="1.4" height="9.0"/><rect class="g" x="788.14" y="139.4" width="1.4" height="8.6"/><rect class="g" x="790.62" y="135.2" width="1.4" height="4.2"/><rect class="r" x="793.09" y="135.2" width="1.4" height="2.3"/><rect class="g" x="795.57" y="136.9" width="1.4" height="0.8"/><rect class="r" x="798.04" y="136.9" width="1.4" height="29.8"/><rect class="r" x="800.52" y="166.7" width="1.4" height="0.8"/><rect class="r" x="802.99" y="167.0" width="1.4" height="34.9"/><rect class="g" x="805.47" y="189.0" width="1.4" height="12.9"/><rect class="g" x="807.95" y="183.0" width="1.4" height="6.0"/><rect class="r" x="810.42" y="183.0" width="1.4" height="0.8"/><rect class="r" x="812.90" y="183.3" width="1.4" height="2.9"/><rect class="r" x="815.37" y="186.2" width="1.4" height="1.6"/><rect class="g" x="817.85" y="166.7" width="1.4" height="21.1"/><rect class="g" x="820.32" y="147.2" width="1.4" height="19.5"/><rect class="g" x="822.80" y="129.0" width="1.4" height="18.2"/><rect class="g" x="825.27" y="107.5" width="1.4" height="21.5"/><rect class="r" x="827.75" y="107.5" width="1.4" height="19.1"/><rect class="g" x="830.23" y="118.0" width="1.4" height="8.6"/><rect class="g" x="832.70" y="115.6" width="1.4" height="2.4"/><rect class="r" x="835.18" y="115.6" width="1.4" height="0.8"/><rect class="r" x="837.65" y="116.2" width="1.4" height="7.2"/><rect class="g" x="840.13" y="119.5" width="1.4" height="3.9"/><rect class="r" x="842.60" y="119.5" width="1.4" height="33.9"/><rect class="g" x="845.08" y="149.5" width="1.4" height="3.9"/><rect class="g" x="847.56" y="145.6" width="1.4" height="3.9"/><rect class="g" x="850.03" y="136.9" width="1.4" height="8.7"/><rect class="g" x="852.51" y="128.9" width="1.4" height="8.0"/></g></g>
<g transform="translate(853.5,563.8)">
<circle r="6.6" fill="#fff" stroke="#b45acb" stroke-width="1.45"/>
<path d="M1.6,-3.9 L-2.9,0.45 L-0.3,0.45 L-2.5,3.7 L2.6,-0.75 L0.1,-0.75 Z" fill="#ab47c4" stroke="#ab47c4" stroke-width="0.55" stroke-linejoin="round"/>
</g>
</svg>
<div class="axis"></div>
<div class="bl"></div>
<div class="txt"><div class="ml" style="left:14.5px">Jul</div><div class="ml" style="left:90.5px">Aug</div><div class="ml" style="left:167px">Sep</div><div class="ml" style="left:242px">Oct</div><div class="ml" style="left:318px">Nov</div><div class="ml" style="left:392.5px">Dec</div><div class="ml yr" style="left:469.5px">2023</div><div class="ml" style="left:546px">Feb</div><div class="ml" style="left:615.5px">Mar</div><div class="ml" style="left:692px">Apr</div><div class="ml" style="left:766px">May</div><div class="ml" style="left:843px">Jun</div><div class="ml" style="left:917.5px">Jul</div><div class="ml" style="left:994px">Aug</div></div>
</body></html>
